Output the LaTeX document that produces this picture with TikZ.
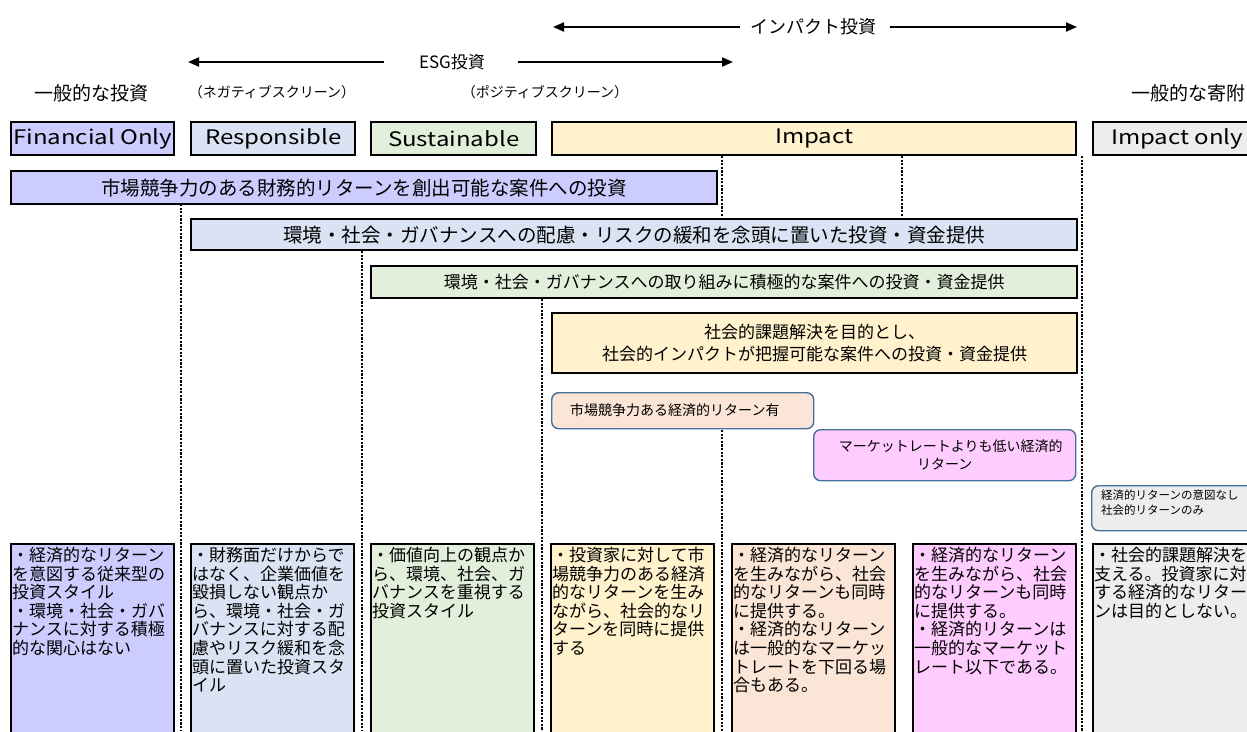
\documentclass[tikz,border=0pt]{standalone}
\usepackage{fontspec}
\setmainfont{Noto Sans CJK JP}
\newfontfamily\hdrfont[FakeStretch=1.2]{Noto Sans CJK JP}
\usetikzlibrary{arrows.meta}
\definecolor{cfin}{RGB}{204,204,255}
\definecolor{cres}{RGB}{218,227,243}
\definecolor{csus}{RGB}{226,239,218}
\definecolor{cimp}{RGB}{255,242,204}
\definecolor{cpea}{RGB}{251,229,214}
\definecolor{cpin}{RGB}{255,204,255}
\definecolor{cgry}{RGB}{237,237,237}
\definecolor{bblue}{RGB}{65,113,156}
\tikzset{
  box/.style={draw=black, line width=2.4pt, rectangle, inner sep=0pt, anchor=north west},
  rbox/.style={draw=bblue, line width=1.4pt, rounded corners=7pt, rectangle, inner sep=0pt, anchor=north west},
  dots/.style={line width=2.8pt, dash pattern=on 2.2pt off 1.4pt},
  arr/.style={line width=2pt, -{Triangle[length=11pt,width=9pt]}},
  hdr/.style={font=\hdrfont\fontsize{20}{22}\selectfont},
  bar/.style={font=\fontsize{19.5}{22}\selectfont},
  bars/.style={font=\fontsize{17}{22}\selectfont, align=center},
  body/.style={font=\fontsize{17}{18.6}\selectfont, align=left, anchor=north west, inner sep=0pt},
  lbl/.style={font=\fontsize{19}{22}\selectfont},
  sml/.style={font=\fontsize{14}{16}\selectfont},
}
\begin{document}
\begin{tikzpicture}[x=1pt,y=-1pt]
\useasboundingbox (0,0) rectangle (1247,731);
\clip (0,0) rectangle (1247,731);

% top arrows
\node[lbl, font=\fontsize{18}{20}\selectfont] (imparr) at (813,27) {インパクト投資};
\coordinate (impL) at (553,27);
\coordinate (impR) at (1077,27);
\draw[arr] (imparr.west) ++(-6,0) -- (impL);
\draw[arr] (imparr.east) ++(10,0) -- (impR);
\node[lbl, font=\fontsize{17}{20}\selectfont] (esgarr) at (452,62) {ESG投資};
\coordinate (esgL) at (188,62);
\coordinate (esgR) at (733,62);
\draw[arr] (esgarr.west) ++(-32,0) -- (esgL);
\draw[arr] (esgarr.east) ++(30,0) -- (esgR);

\node[lbl] (ippan) at (91,93) {一般的な投資};
\node[sml] (nega) at (272,92) {（ネガティブスクリーン）};
\node[sml] (posi) at (545,92) {（ポジティブスクリーン）};
\node[lbl] (kifu) at (1188,93) {一般的な寄附};

% header boxes
\node[box, hdr, fill=cfin, minimum width=163pt, minimum height=33pt] (h1) at (10,121) {Financial Only};
\node[box, hdr, fill=cres, minimum width=164pt, minimum height=33pt] (h2) at (190,121) {Responsible};
\node[box, hdr, fill=csus, minimum width=165pt, minimum height=33pt] (h3) at (370,121) {Sustainable};
\node[box, hdr, fill=cimp, minimum width=524pt, minimum height=33pt] (h4) at (551,121) {Impact};
\node[box, hdr, fill=cgry, minimum width=168pt, minimum height=33pt] (h5) at (1092,121) {Impact only};

% dotted dividers
\draw[dots] (181,204) -- (181,731);
\draw[dots] (362,251) -- (362,731);
\draw[dots] (542,299) -- (542,731);
\draw[dots] (722,156) -- (722,216);
\draw[dots] (722,430) -- (722,731);
\draw[dots] (902,156) -- (902,216);
\draw[dots] (1082,156) -- (1082,731);

% bars
\node[box, bar, fill=cfin, minimum width=706pt, minimum height=33pt] (b1) at (10,170) {市場競争力のある財務的リターンを創出可能な案件への投資};
\node[box, bar, fill=cres, minimum width=886pt, minimum height=31pt] (b2) at (190,218) {環境・社会・ガバナンスへの配慮・リスクの緩和を念頭に置いた投資・資金提供};
\node[box, bars, fill=csus, minimum width=706pt, minimum height=32pt] (b3) at (370,265) {環境・社会・ガバナンスへの取り組みに積極的な案件への投資・資金提供};
\node[box, bars, fill=cimp, minimum width=525pt, minimum height=60pt] (b4) at (551,312) {社会的課題解決を目的とし、\\社会的インパクトが把握可能な案件への投資・資金提供};

% rounded boxes
\node[rbox, fill=cpea, minimum width=262pt, minimum height=36pt] (r1) at (551,392) {};
\node[anchor=west, inner sep=0pt, font=\fontsize{14}{17}\selectfont] (r1t) at (570,410) {市場競争力ある経済的リターン有};
\node[rbox, fill=cpin, minimum width=262pt, minimum height=51pt, font=\fontsize{14}{18}\selectfont, align=center] (r2) at (813,429) {\hspace*{12pt}マーケットレートよりも低い経済的\\リターン};
\node[rbox, fill=cgry, minimum width=175pt, minimum height=45pt] (r3) at (1091,485) {};
\node[anchor=north west, inner sep=0pt, align=left, font=\fontsize{11.5}{15}\selectfont] (r3t) at (1101,490) {経済的リターンの意図なし\\社会的リターンのみ};

% bottom boxes
\node[box, fill=cfin, minimum width=163pt, minimum height=200pt] (c1) at (10,543) {};
\node[box, fill=cres, minimum width=163pt, minimum height=200pt] (c2) at (190,543) {};
\node[box, fill=csus, minimum width=163pt, minimum height=200pt] (c3) at (370,543) {};
\node[box, fill=cimp, minimum width=163pt, minimum height=200pt] (c4) at (550,543) {};
\node[box, fill=cpea, minimum width=163pt, minimum height=200pt] (c5) at (731,543) {};
\node[box, fill=cpin, minimum width=163pt, minimum height=200pt] (c6) at (912,543) {};
\node[box, fill=cgry, minimum width=170pt, minimum height=200pt] (c7) at (1092,543) {};

\node[body] (c1t) at (12,547) {・経済的なリターン\\を意図する従来型の\\投資スタイル\\・環境・社会・ガバ\\ナンスに対する積極\\的な関心はない};
\node[body] (c2t) at (192,547) {・財務面だけからで\\はなく、企業価値を\\毀損しない観点か\\ら、環境・社会・ガ\\バナンスに対する配\\慮やリスク緩和を念\\頭に置いた投資スタ\\イル};
\node[body] (c3t) at (372,547) {・価値向上の観点か\\ら、環境、社会、ガ\\バナンスを重視する\\投資スタイル};
\node[body] (c4t) at (552,547) {・投資家に対して市\\場競争力のある経済\\的なリターンを生み\\ながら、社会的なリ\\ターンを同時に提供\\する};
\node[body] (c5t) at (733,547) {・経済的なリターン\\を生みながら、社会\\的なリターンも同時\\に提供する。\\・経済的なリターン\\は一般的なマーケッ\\トレートを下回る場\\合もある。};
\node[body] (c6t) at (914,547) {・経済的なリターン\\を生みながら、社会\\的なリターンも同時\\に提供する。\\・経済的リターンは\\一般的なマーケット\\レート以下である。};
\node[body] (c7t) at (1094,547) {・社会的課題解決を\\支える。投資家に対\\する経済的なリター\\ンは目的としない。};
\end{tikzpicture}
\end{document}
